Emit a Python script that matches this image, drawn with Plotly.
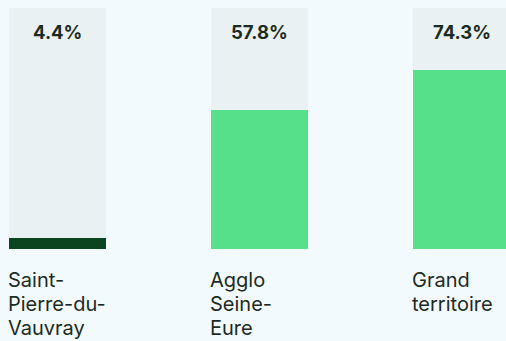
import plotly.graph_objects as go

# Share of the indicator per territory (%)
territories = ["Saint-Pierre-du-Vauvray", "Agglo Seine-Eure", "Grand territoire"]
label_lines = [["Saint-", "Pierre-du-", "Vauvray"], ["Agglo", "Seine-", "Eure"], ["Grand", "territoire"]]
values = [4.4, 57.8, 74.3]
bar_colors = ["#0a4520", "#57e08a", "#57e08a"]

W, H = 506, 341
x_pos = list(range(len(territories)))
bar_w = 0.48

fig = go.Figure()
# background track for each bar (100 %)
fig.add_trace(go.Bar(x=x_pos, y=[100] * len(values), width=bar_w,
                     marker=dict(color="#eaf1f3", line=dict(width=0)),
                     hoverinfo="skip", showlegend=False))
fig.add_trace(go.Bar(x=x_pos, y=values, width=bar_w,
                     marker=dict(color=bar_colors, line=dict(width=0)),
                     showlegend=False))

annotations = []
for xi, v in zip(x_pos, values):
    annotations.append(dict(x=xi, y=90, xref="x", yref="y", text=f"<b>{v:.1f}%</b>",
                            showarrow=False, xanchor="center", yanchor="middle",
                            font=dict(family="Inter", size=18.5, color="#1c2b22")))
# category labels, one annotation per wrapped line
line_y = [-12.7, -22.7, -32.7]
for xi, lines in zip(x_pos, label_lines):
    for k, line in enumerate(lines):
        annotations.append(dict(x=xi - bar_w / 2, y=line_y[k], xref="x", yref="y", text=line,
                                showarrow=False, xanchor="left", yanchor="middle", align="left",
                                xshift=-2, borderpad=0,
                                font=dict(family="Inter", size=20, color="#1c2b22")))

fig.update_layout(
    width=W, height=H,
    margin=dict(l=0, r=0, t=0, b=0),
    paper_bgcolor="#f3fafd", plot_bgcolor="#f3fafd",
    barmode="overlay", bargap=0,
    xaxis=dict(range=[-0.2847, 2.2203], visible=False, fixedrange=True),
    yaxis=dict(range=[-38.17, 103.32], visible=False, fixedrange=True),
    annotations=annotations,
)

fig.write_html("out.html", config={"displayModeBar": False})
